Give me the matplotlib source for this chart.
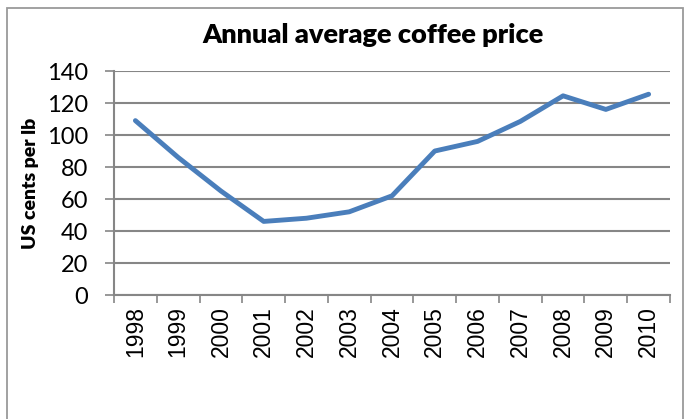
import matplotlib.pyplot as plt
from matplotlib.patches import Rectangle

years = ['1998', '1999', '2000', '2001', '2002', '2003', '2004',
         '2005', '2006', '2007', '2008', '2009', '2010']
price = [109, 86, 65, 46, 48, 52, 62, 90, 96, 108.5, 124.5, 116, 125.5]
y_ticks = [0, 20, 40, 60, 80, 100, 120, 140]

grid_col = '#868686'
line_col = '#4a7ebb'

fig = plt.figure(figsize=(6.86, 4.19), dpi=100)
ax = fig.add_axes([0.1662, 0.2959, 0.9767 - 0.1662, 0.8305 - 0.2959])

# chart frame
fig.patches.append(Rectangle((7 / 686, -0.05), 676 / 686, 1 - 8 / 419 + 0.05,
                             transform=fig.transFigure, fill=False,
                             edgecolor='#9a9a9a', linewidth=1.3))

x = range(len(years))
ax.plot(x, price, color=line_col, linewidth=3.5, solid_capstyle='round',
        solid_joinstyle='round', zorder=3)

ax.set_xlim(-0.5, len(years) - 0.5)
ax.set_ylim(0, 140)
ax.set_yticks(y_ticks)
ax.set_yticklabels([str(v) for v in y_ticks], family='Lato', fontsize=17)
ax.grid(axis='y', color=grid_col, linewidth=1.5)
ax.set_axisbelow(True)

# category ticks on boundaries, labels in between
ax.set_xticks([i - 0.5 for i in range(len(years) + 1)])
ax.set_xticklabels([])
ax.set_xticks(list(x), minor=True)
ax.set_xticklabels(years, minor=True, rotation=90, family='Liberation Sans',
                   fontsize=16.5, va='top')
ax.tick_params(axis='x', which='major', length=6, color=grid_col, width=1.2,
               direction='out')
ax.tick_params(axis='x', which='minor', length=0, pad=8)
ax.tick_params(axis='y', length=6.5, color=grid_col, width=1.2, pad=12)

for s in ['top', 'right']:
    ax.spines[s].set_visible(False)
for s in ['left', 'bottom']:
    ax.spines[s].set_color(grid_col)
    ax.spines[s].set_linewidth(1.5)

ax.set_ylabel('US cents per lb', family='Lato', fontweight='heavy',
              fontsize=14, labelpad=6)
fig.text(0.544, 0.916, 'Annual average coffee price', family='Lato',
         fontweight='heavy', fontsize=19.5, ha='center', va='center')

fig.savefig('out.png', dpi=100)
